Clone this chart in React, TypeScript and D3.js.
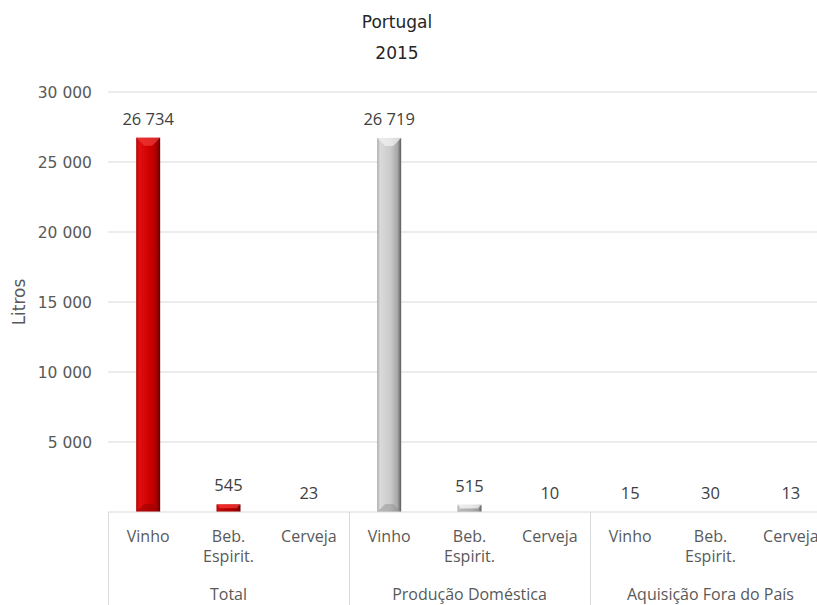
import React from "react";
import * as d3 from "d3";

const groups = ["Total", "Produção Doméstica", "Aquisição Fora do País"];
const categories = ["Vinho", "Beb. Espirit.", "Cerveja"];
const categoryLines = [["Vinho"], ["Beb.", "Espirit."], ["Cerveja"]];
const totalValues = [26734, 545, 23];
const domesticValues = [26719, 515, 10];
const abroadValues = [15, 30, 13];
const yTicks = [5000, 10000, 15000, 20000, 25000, 30000];
const titleLines = ["Portugal", "2015"];
const yLabel = "Litros";

const seriesByGroup = [totalValues, domesticValues, abroadValues];
const paletteByGroup = ["red", "grey", "grey"];

const W = 817;
const H = 605;
const left = 108;
const right = 831;
const y0 = 512;
const yTop = 92;

const fmt = (v: number) => {
  const s = d3.format(",")(v);
  return s.replace(/,/g, " ");
};

export default function App() {
  const y = d3.scaleLinear().domain([0, 30000]).range([y0, yTop]);
  const xg = d3.scaleBand<string>().domain(groups).range([left, right]).padding(0);
  const xc = d3.scaleBand<string>().domain(categories).range([0, xg.bandwidth()]).padding(0);
  const barW = 24;
  const tickFont = "'DejaVu Sans', sans-serif";
  const labFont = "'Open Sans', sans-serif";

  return (
    <div style={{ position: "absolute", left: 0, top: 0 }}>
      <svg width={W} height={H} style={{ display: "block", background: "#fff" }}>
        <defs>
          <linearGradient id="g-red" x1="0" x2="1" y1="0" y2="0">
            <stop offset="0" stopColor="#b00000" />
            <stop offset="0.12" stopColor="#e01010" />
            <stop offset="0.55" stopColor="#d00000" />
            <stop offset="0.85" stopColor="#a80000" />
            <stop offset="1" stopColor="#600000" />
          </linearGradient>
          <linearGradient id="g-grey" x1="0" x2="1" y1="0" y2="0">
            <stop offset="0" stopColor="#a8a8a8" />
            <stop offset="0.12" stopColor="#dadada" />
            <stop offset="0.55" stopColor="#cbcbcb" />
            <stop offset="0.85" stopColor="#a6a6a6" />
            <stop offset="1" stopColor="#5a5a5a" />
          </linearGradient>
        </defs>

        {yTicks.map((t) => (
          <line key={t} x1={left} x2={right} y1={y(t)} y2={y(t)} stroke="#d9d9d9" strokeWidth={1} />
        ))}
        {yTicks.map((t) => (
          <text key={"l" + t} x={92} y={y(t) + 5.5} textAnchor="end" fontFamily={tickFont} fontSize={15.5} fill="#595959">
            {fmt(t)}
          </text>
        ))}
        <text
          transform={`translate(25,${(y0 + yTop) / 2}) rotate(-90)`}
          textAnchor="middle"
          fontFamily={tickFont}
          fontSize={17}
          fill="#595959"
        >
          {yLabel}
        </text>

        {titleLines.map((t, i) => (
          <text key={t} x={397} y={28 + i * 31} textAnchor="middle" fontFamily={tickFont} fontSize={17} fill="#262626">
            {t}
          </text>
        ))}

        {groups.map((g, gi) =>
          categories.map((c, ci) => {
            const v = seriesByGroup[gi][ci];
            const cx = (xg(g) as number) + (xc(c) as number) + xc.bandwidth() / 2;
            const x0 = cx - barW / 2;
            const top = y(v);
            const h = y0 - top;
            const pal = paletteByGroup[gi];
            const bev = Math.min(8, h / 2);
            const light = pal === "red" ? "#f03a3a" : "#f4f4f4";
            const dark = pal === "red" ? "#8a0000" : "#8c8c8c";
            return (
              <g key={g + c}>
                {h > 0.5 && (
                  <>
                    <rect x={x0} y={top} width={barW} height={h} fill={`url(#g-${pal})`} />
                    <path
                      d={`M${x0},${top}L${x0 + barW},${top}L${x0 + barW - bev},${top + bev}L${x0 + bev},${top + bev}Z`}
                      fill={light}
                      opacity={0.7}
                    />
                    <path
                      d={`M${x0},${y0}L${x0 + barW},${y0}L${x0 + barW - bev},${y0 - bev}L${x0 + bev},${y0 - bev}Z`}
                      fill={dark}
                      opacity={0.45}
                    />
                  </>
                )}
                <text x={cx} y={top - 13} textAnchor="middle" fontFamily={labFont} fontSize={16.5} fill="#404040">
                  {fmt(v)}
                </text>
              </g>
            );
          })
        )}

        <line x1={left} x2={right} y1={y0} y2={y0} stroke="#d9d9d9" strokeWidth={1} />
        {groups.map((g) => (
          <line key={"s" + g} x1={(xg(g) as number) + 0.5} x2={(xg(g) as number) + 0.5} y1={y0} y2={H} stroke="#d9d9d9" />
        ))}
        <line x1={right} x2={right} y1={y0} y2={H} stroke="#d9d9d9" />

        {groups.map((g) =>
          categories.map((c, ci) => {
            const cx = (xg(g) as number) + (xc(c) as number) + xc.bandwidth() / 2;
            return (
              <g key={"c" + g + c}>
                {categoryLines[ci].map((ln, li) => (
                  <text
                    key={ln}
                    x={cx}
                    y={542 + li * 20}
                    textAnchor="middle"
                    fontFamily={labFont}
                    fontSize={16}
                    fill="#595959"
                  >
                    {ln}
                  </text>
                ))}
              </g>
            );
          })
        )}
        {groups.map((g) => (
          <text
            key={"g" + g}
            x={(xg(g) as number) + xg.bandwidth() / 2}
            y={600}
            textAnchor="middle"
            fontFamily={labFont}
            fontSize={16}
            fill="#595959"
          >
            {g}
          </text>
        ))}
      </svg>
    </div>
  );
}
